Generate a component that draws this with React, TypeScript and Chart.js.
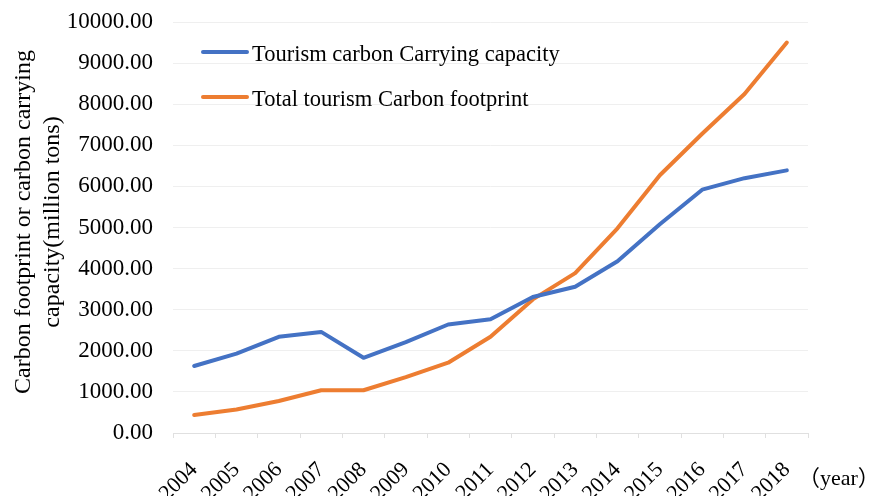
import React, { useEffect, useRef } from "react";
import { Chart, registerables } from "chart.js";

Chart.register(...registerables);

const years = ["2004", "2005", "2006", "2007", "2008", "2009", "2010", "2011", "2012", "2013", "2014", "2015", "2016", "2017", "2018"];
const carryingCapacity = [1630, 1930, 2340, 2460, 1830, 2210, 2640, 2770, 3310, 3560, 4180, 5080, 5920, 6200, 6390];
const carbonFootprint = [440, 570, 780, 1040, 1040, 1360, 1710, 2340, 3250, 3890, 4980, 6270, 7280, 8250, 9500];
const seriesNames = ["Tourism carbon Carrying capacity", "Total tourism Carbon footprint"];
const yTitleLines = ["Carbon footprint or carbon carrying", "capacity(million tons)"];
const xUnitLabel = "（year）";

const BLUE = "#4472C4";
const ORANGE = "#ED7D31";
const SERIF = '"Times New Roman", "Liberation Serif", "Noto Sans CJK SC", serif';

const W = 872;
const H = 496;
const AREA_LEFT = 173;
const AREA_RIGHT = 808;
const AREA_TOP = 22;
const AREA_BOTTOM = 433;

// Draws the in-plot legend, the two-line y title and the unit label.
const annotations = {
  id: "annotations",
  afterDraw(chart: any) {
    const ctx = chart.ctx as CanvasRenderingContext2D;
    ctx.save();

    // legend
    const rows = [
      { color: BLUE, text: seriesNames[0], y: 52 },
      { color: ORANGE, text: seriesNames[1], y: 97 },
    ];
    ctx.font = `22.5px ${SERIF}`;
    ctx.textAlign = "left";
    ctx.textBaseline = "alphabetic";
    for (const r of rows) {
      ctx.strokeStyle = r.color;
      ctx.lineWidth = 4;
      ctx.lineCap = "round";
      ctx.beginPath();
      ctx.moveTo(203, r.y);
      ctx.lineTo(247, r.y);
      ctx.stroke();
      ctx.fillStyle = "#000";
      ctx.fillText(r.text, 252, r.y + 9);
    }

    // y title
    ctx.font = `24px ${SERIF}`;
    ctx.textAlign = "center";
    ctx.fillStyle = "#000";
    const baselines = [30, 59];
    yTitleLines.forEach((line, i) => {
      ctx.save();
      ctx.translate(baselines[i], 222);
      ctx.rotate(-Math.PI / 2);
      ctx.fillText(line, 0, 0);
      ctx.restore();
    });

    // unit label
    ctx.font = `22px ${SERIF}`;
    ctx.textAlign = "left";
    ctx.fillText(xUnitLabel, 798, 485);

    ctx.restore();
  },
};

export default function App() {
  const canvasRef = useRef<HTMLCanvasElement | null>(null);

  useEffect(() => {
    document.body.style.margin = "0";
    const canvas = canvasRef.current;
    if (!canvas) return;

    const chart = new Chart(canvas, {
      type: "line",
      data: {
        labels: years,
        datasets: [
          {
            label: seriesNames[0],
            data: carryingCapacity,
            borderColor: BLUE,
            backgroundColor: BLUE,
            borderWidth: 4,
            pointRadius: 0,
            tension: 0,
            borderCapStyle: "round",
            borderJoinStyle: "round",
          },
          {
            label: seriesNames[1],
            data: carbonFootprint,
            borderColor: ORANGE,
            backgroundColor: ORANGE,
            borderWidth: 4,
            pointRadius: 0,
            tension: 0,
            borderCapStyle: "round",
            borderJoinStyle: "round",
          },
        ],
      },
      options: {
        responsive: false,
        animation: false,
        devicePixelRatio: 1,
        layout: {
          padding: { left: 0, top: AREA_TOP, right: W - AREA_RIGHT, bottom: 0 },
        },
        plugins: {
          legend: { display: false },
          tooltip: { enabled: false },
        },
        scales: {
          x: {
            offset: true,
            grid: {
              display: true,
              offset: true,
              drawOnChartArea: false,
              drawTicks: true,
              tickLength: 5,
              color: "#e0e0e0",
            },
            border: { display: true, color: "#e0e0e0", width: 1 },
            ticks: {
              autoSkip: false,
              minRotation: 45,
              maxRotation: 45,
              padding: 19,
              color: "#000",
              font: { family: SERIF, size: 22 },
            },
            afterFit(scale: any) {
              scale.height = H - AREA_BOTTOM;
            },
          },
          y: {
            min: 0,
            max: 10000,
            grid: {
              color: "#efefef",
              drawTicks: false,
            },
            border: { display: false },
            ticks: {
              stepSize: 1000,
              padding: 20,
              color: "#000",
              font: { family: SERIF, size: 23 },
              callback: (v: any) => Number(v).toFixed(2),
            },
            afterFit(scale: any) {
              scale.width = AREA_LEFT;
              scale.paddingTop = 0;
              scale.paddingBottom = 0;
            },
          },
        },
      },
      plugins: [annotations],
    });

    return () => chart.destroy();
  }, []);

  return (
    <canvas
      ref={canvasRef}
      width={W}
      height={H}
      style={{ display: "block", width: W, height: H }}
    />
  );
}
